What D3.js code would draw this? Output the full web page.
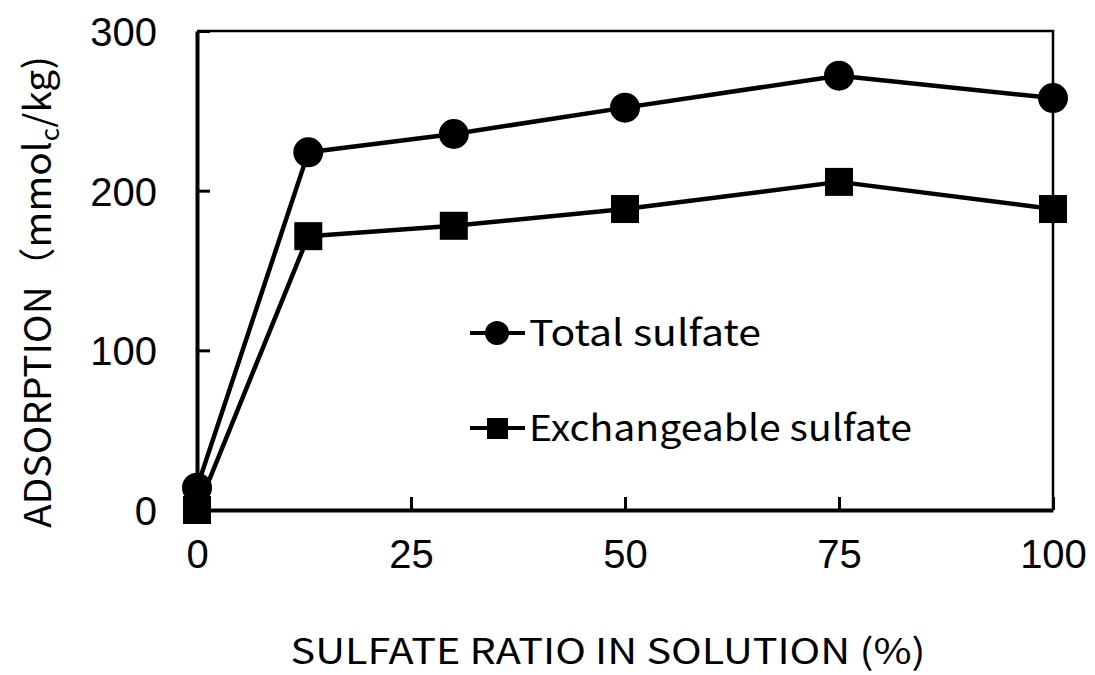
<!DOCTYPE html>
<html>
<head>
<meta charset="utf-8">
<script src="https://cdn.jsdelivr.net/npm/d3@7"></script>
<style>
  html, body { margin: 0; padding: 0; background: #fff; }
  svg { display: block; }
</style>
</head>
<body>
<svg id="chart" width="1095" height="675"></svg>
<script>
const sulfateRatio = [0, 13, 30, 50, 75, 100];
const totalSulfate = [14, 224, 235.5, 252, 272, 258];
const exchangeableSulfate = [0, 171.5, 178, 188.5, 205.5, 188.5];
const xTicks = [0, 25, 50, 75, 100];
const yTicks = [0, 100, 200, 300];
const seriesNames = ["Total sulfate", "Exchangeable sulfate"];

const svg = d3.select("#chart");
const margin = { top: 31, right: 42, bottom: 165, left: 197 };
const width = 1095, height = 675;
const innerW = width - margin.left - margin.right;
const innerH = height - margin.top - margin.bottom;

const x = d3.scaleLinear().domain([0, 100]).range([0, innerW]);
const y = d3.scaleLinear().domain([0, 300]).range([innerH, 0]);

const g = svg.append("g").attr("transform", `translate(${margin.left},${margin.top})`);

// frame: top and right thinner
g.append("path")
  .attr("d", `M0,0H${innerW}V${innerH}`)
  .attr("fill", "none")
  .attr("stroke", "#000")
  .attr("stroke-width", 2.5);

// inward ticks
const xAxis = d3.axisBottom(x).tickValues(xTicks).tickSize(-13).tickPadding(30).tickSizeOuter(0);
const yAxis = d3.axisLeft(y).tickValues(yTicks).tickSize(-13).tickPadding(40).tickSizeOuter(0);

const gx = g.append("g").attr("transform", `translate(0,${innerH})`).call(xAxis);
const gy = g.append("g").call(yAxis);

[gx, gy].forEach((ax) => {
  ax.select(".domain").attr("stroke", "#000").attr("stroke-width", 4);
  ax.selectAll(".tick line").attr("stroke", "#000").attr("stroke-width", 3);
  ax.selectAll("text")
    .style("font-family", "'Liberation Sans', Arial, sans-serif")
    .style("font-size", "40px")
    .attr("fill", "#000");
});
gx.selectAll(".tick text").attr("dy", "0.71em").attr("y", 30);
gy.selectAll(".tick text").attr("dy", "0.36em");

const line = d3.line().x((d) => x(d[0])).y((d) => y(d[1]));
const totalPts = sulfateRatio.map((v, i) => [v, totalSulfate[i]]);
const exchPts = sulfateRatio.map((v, i) => [v, exchangeableSulfate[i]]);

[totalPts, exchPts].forEach((pts) => {
  g.append("path")
    .datum(pts)
    .attr("d", line)
    .attr("fill", "none")
    .attr("stroke", "#000")
    .attr("stroke-width", 4.5)
    .attr("stroke-linejoin", "round");
});

g.append("g")
  .selectAll("rect")
  .data(exchPts)
  .enter()
  .append("rect")
  .attr("x", (d) => x(d[0]) - 14)
  .attr("y", (d) => y(d[1]) - 14)
  .attr("width", 28)
  .attr("height", 28)
  .attr("fill", "#000");

g.append("g")
  .selectAll("circle")
  .data(totalPts)
  .enter()
  .append("circle")
  .attr("cx", (d) => x(d[0]))
  .attr("cy", (d) => y(d[1]))
  .attr("r", 15)
  .attr("fill", "#000");

// legend
const legendFont = "'Noto Sans CJK JP', 'Noto Sans', sans-serif";
const legend = svg.append("g").attr("transform", "translate(470,333)");
const legendRows = [
  { name: seriesNames[0], shape: "circle", dy: 0, len: 232 },
  { name: seriesNames[1], shape: "square", dy: 95, len: 383 },
];
legendRows.forEach((r) => {
  const row = legend.append("g").attr("transform", `translate(0,${r.dy})`);
  row.append("line")
    .attr("x1", 0).attr("x2", 55)
    .attr("stroke", "#000").attr("stroke-width", 4);
  if (r.shape === "circle") {
    row.append("circle").attr("cx", 27).attr("r", 12).attr("fill", "#000");
  } else {
    row.append("rect").attr("x", 17).attr("y", -10).attr("width", 21).attr("height", 21).attr("fill", "#000");
  }
  row.append("text")
    .attr("x", 59)
    .attr("y", 13)
    .attr("textLength", r.len)
    .attr("lengthAdjust", "spacingAndGlyphs")
    .style("font-family", legendFont)
    .style("font-size", "36px")
    .text(r.name);
});

// axis titles
svg.append("text")
  .attr("x", 608)
  .attr("y", 664)
  .attr("text-anchor", "middle")
  .attr("textLength", 635)
  .attr("lengthAdjust", "spacingAndGlyphs")
  .style("font-family", legendFont)
  .style("font-size", "35px")
  .text("SULFATE RATIO IN SOLUTION (%)");

const yTitle = svg.append("text")
  .attr("transform", "translate(51,292) rotate(-90)")
  .attr("text-anchor", "middle")
  .attr("textLength", 472)
  .attr("lengthAdjust", "spacingAndGlyphs")
  .style("font-family", legendFont)
  .style("font-size", "37px");
yTitle.append("tspan").text("ADSORPTION（mmol");
yTitle.append("tspan").attr("dy", 8).style("font-size", "25px").text("c");
yTitle.append("tspan").attr("dy", -8).text("/kg)");
</script>
</body>
</html>
